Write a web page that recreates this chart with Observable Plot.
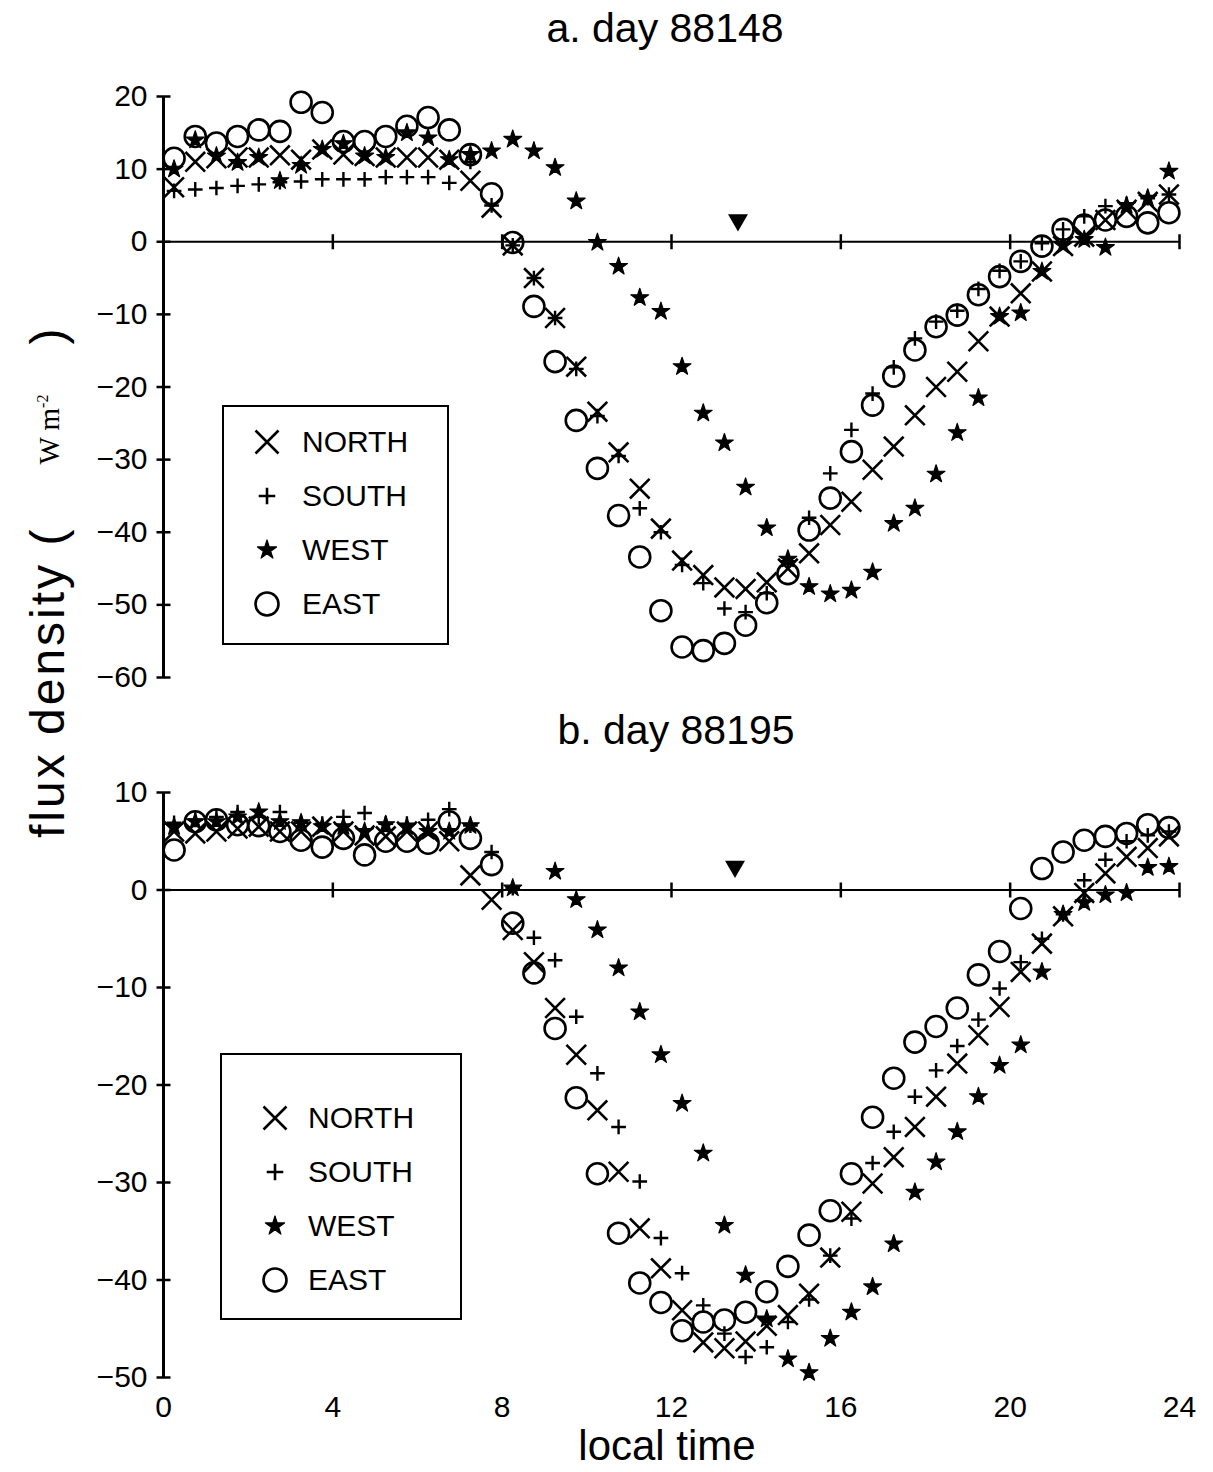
<!DOCTYPE html>
<html>
<head>
<meta charset="utf-8">
<script src="https://cdn.jsdelivr.net/npm/d3@7"></script>
<script src="https://cdn.jsdelivr.net/npm/@observablehq/plot@0.6"></script>
<style>
  body { margin: 0; background: #fff; }
  #root { position: relative; width: 1213px; height: 1472px; background: #fff; font-family: "Liberation Sans", Arial, sans-serif; color: #000; overflow: hidden; }
  .abs { position: absolute; }
  .title { font-size: 41px; white-space: nowrap; transform: translate(-50%, -50%); }
  .legend { border: 2px solid #000; box-sizing: border-box; background: #fff; }
  .legend .row { position: absolute; font-size: 30px; white-space: nowrap; line-height: 30px; }
  .legend svg { position: absolute; overflow: visible; }
</style>
</head>
<body>
<div id="root"></div>
<script>
// ---------- data ----------
const hours = [0.25,0.75,1.25,1.75,2.25,2.75,3.25,3.75,4.25,4.75,5.25,5.75,6.25,6.75,7.25,7.75,
  8.25,8.75,9.25,9.75,10.25,10.75,11.25,11.75,12.25,12.75,13.25,13.75,14.25,14.75,15.25,15.75,
  16.25,16.75,17.25,17.75,18.25,18.75,19.25,19.75,20.25,20.75,21.25,21.75,22.25,22.75,23.25,23.75];

const series = ["NORTH", "SOUTH", "WEST", "EAST"];

// panel a: day 88148
const northA = [7.5,11,11.5,11.6,11.6,11.9,11.3,12.7,12,11.8,11.6,11.6,11.6,11.3,8.4,4.7,
  -0.5,-5,-10.5,-17.2,-23.4,-29,-34,-39.5,-43.9,-45.9,-47.6,-47.8,-46.9,-45,-42.9,-39,
  -35.8,-31.4,-28.2,-23.9,-20,-17.9,-13.7,-10.3,-7.1,-4.1,-0.6,0.7,3,4.4,5.5,6.5];
const southA = [7,7.2,7.4,7.7,7.9,8.2,8.3,8.6,8.6,8.6,8.9,8.9,8.9,8.1,11,5,
  -0.5,-5,-10.5,-17.5,-24,-29.5,-36.7,-40,-44.5,-47,-50.5,-51,-48.4,-44,-38,-31.9,
  -25.9,-20.9,-17.3,-13.3,-11,-9.5,-6.5,-4,-2.7,-0.2,1.7,3.5,4.9,5.2,6,6.5];
const westA = [10,14,11.8,10.9,11.6,8.4,10.5,12.7,13.5,11.8,11.6,15,14.3,11.3,12,12.5,
  14.1,12.5,10.2,5.6,-0.1,-3.4,-7.7,-9.6,-17.2,-23.6,-27.7,-33.8,-39.4,-43.7,-47.5,-48.5,
  -48,-45.5,-38.8,-36.7,-32,-26.3,-21.5,-10.3,-9.8,-4.1,-0.5,0.3,-0.8,5,6,9.7];
const eastA = [11.5,14.5,13.6,14.5,15.4,15.2,19.2,17.8,13.8,13.8,14.5,15.9,17.1,15.4,12,6.6,
  -0.1,-8.9,-16.5,-24.6,-31.2,-37.7,-43.4,-50.8,-55.8,-56.3,-55.3,-52.8,-49.7,-45.7,-39.7,-35.3,
  -28.9,-22.5,-18.5,-14.9,-11.7,-10.1,-7.3,-4.8,-2.7,-0.6,1.7,2.3,3,3.5,2.6,4];

// panel b: day 88195
const northB = [6,5.8,6,6.3,6.5,6,6,6.5,6,5.6,5.5,6,6,5,1.5,-1,
  -4.1,-7.4,-12.1,-16.9,-22.6,-28.9,-34.7,-38.8,-43.1,-46.4,-47,-46.3,-44.7,-43.6,-41.4,-37.7,
  -33,-30.1,-27.4,-24.3,-21.2,-17.8,-14.9,-12,-8.4,-5.5,-2.7,-0.3,1.7,3.4,4.3,5.5];
const southB = [6.9,7.2,7.5,8,7.5,8,6.9,6.8,7.5,7.9,6.8,6.8,7.2,8.3,6.6,3.9,
  0.2,-4.9,-7.2,-13,-18.8,-24.3,-29.9,-35.7,-39.3,-42.6,-45.5,-47.9,-46.9,-44.3,-42,-37.5,
  -33.7,-28,-24.8,-21.2,-18.5,-16,-13.3,-10.1,-7.4,-5,-2.5,1,3.1,5,5.6,6];
const westB = [6.5,7,7,7.5,8,7,6.9,6.5,6.5,6,6.7,6.5,6,6,6.6,null,
  0.2,null,1.9,-1,-4.1,-8,-12.5,-16.9,-21.9,-27,-34.4,-39.5,-44,-48.1,-49.5,-46,
  -43.3,-40.7,-36.3,-31,-27.9,-24.8,-21.2,-18,-15.9,-8.4,-2.5,-1.3,-0.5,-0.3,2.3,2.4];
const eastB = [4.1,7,7.2,6.7,6.6,6,5.1,4.4,5.3,3.6,5,5,4.8,7,5.3,2.6,
  -3.4,-8.5,-14.2,-21.3,-29.1,-35.2,-40.3,-42.3,-45.2,-44.3,-44.1,-43.3,-41.2,-38.6,-35.4,-32.9,
  -29.1,-23.3,-19.3,-15.6,-14,-12.1,-8.7,-6.3,-1.9,2.2,3.9,5.1,5.5,5.8,6.7,6.4];

// solar-noon markers (hour, flux)
const noonA = {t: 13.57, v: 3.0};
const noonB = {t: 13.5, v: 2.4};

const xTicks = [0, 4, 8, 12, 16, 20, 24];
const yTicksA = [-60, -50, -40, -30, -20, -10, 0, 10, 20];
const yTicksB = [-50, -40, -30, -20, -10, 0, 10];

const titleA = "a. day 88148";
const titleB = "b. day 88195";
const xTitle = "local time";

// ---------- helpers ----------
const hTick = {draw(ctx, size) { const r = Math.sqrt(size / Math.PI); ctx.moveTo(-r, 0); ctx.lineTo(r, 0); }};
const vTick = {draw(ctx, size) { const r = Math.sqrt(size / Math.PI); ctx.moveTo(0, -r); ctx.lineTo(0, r); }};

const root = document.getElementById("root");

function makePanel({north, south, west, east, yDomain, yTicks, height, mt, mb, noon, xLabels}) {
  const marks = [
    Plot.ruleY([0], {stroke: "#000", strokeWidth: 2}),
    Plot.ruleX([0], {stroke: "#000", strokeWidth: 3}),
    Plot.dot(yTicks, {x: () => 0, y: d => d, symbol: hTick, r: 7, fill: "none", stroke: "#000", strokeWidth: 2.5}),
    Plot.dot(xTicks, {x: d => d, y: () => 0, symbol: vTick, r: 7.5, fill: "none", stroke: "#000", strokeWidth: 2.5}),
    Plot.axisY({ticks: yTicks, tickSize: 0, tickPadding: 16, label: null}),
    Plot.dot(hours, {x: hours, y: east, r: 10.5, fill: "none", stroke: "#000", strokeWidth: 2.6}),
    Plot.dot(hours, {x: hours, y: north, symbol: "times", r: 9, fill: "none", stroke: "#000", strokeWidth: 2.6}),
    Plot.dot(hours, {x: hours, y: south, symbol: "plus", r: 4.8, fill: "none", stroke: "#000", strokeWidth: 2.4}),
    Plot.dot(hours, {x: hours, y: west, symbol: "star", r: 5.6, fill: "#000", stroke: "#000", strokeWidth: 1.2, strokeLinejoin: "round"}),
    Plot.dot([noon], {x: "t", y: "v", symbol: "triangle", rotate: 180, r: 7.4, fill: "#000", stroke: "none"})
  ];
  if (xLabels) marks.push(Plot.axisX({ticks: xTicks, tickSize: 0, tickPadding: 18, label: null}));
  return Plot.plot({
    width: 1213, height,
    marginLeft: 163, marginRight: 34, marginTop: mt, marginBottom: mb,
    x: xLabels ? {domain: [0, 24]} : {domain: [0, 24], axis: null},
    y: {domain: yDomain},
    style: {fontFamily: '"Liberation Sans", Arial, sans-serif', fontSize: "30px", background: "transparent", color: "#000", overflow: "visible"},
    marks
  });
}

const svgA = makePanel({north: northA, south: southA, west: westA, east: eastA,
  yDomain: [-60, 20], yTicks: yTicksA, height: 700, mt: 96, mb: 23, noon: noonA, xLabels: false});
svgA.classList.add("abs"); svgA.style.left = "0px"; svgA.style.top = "0px";
root.appendChild(svgA);

const svgB = makePanel({north: northB, south: southB, west: westB, east: eastB,
  yDomain: [-50, 10], yTicks: yTicksB, height: 772, mt: 92, mb: 95, noon: noonB, xLabels: true});
svgB.classList.add("abs"); svgB.style.left = "0px"; svgB.style.top = "700px";
root.appendChild(svgB);

// titles
function addText(txt, x, y, cls) {
  const d = document.createElement("div");
  d.className = "abs " + cls; d.textContent = txt;
  d.style.left = x + "px"; d.style.top = y + "px";
  root.appendChild(d);
  return d;
}
addText(titleA, 665, 28, "title");
addText(titleB, 676, 730, "title");
const xt = addText(xTitle, 667, 1446, "title"); xt.style.fontSize = "42px";

// y-axis title (rotated)
const yl = document.createElement("div");
yl.className = "abs";
yl.style.cssText = "left:24px;top:838px;transform-origin:0 0;transform:rotate(-90deg);white-space:nowrap;line-height:48px;height:48px;";
yl.innerHTML = '<span style="font-size:48px;letter-spacing:3px">flux density (</span>' +
  '<span style="font-family:\'Liberation Serif\',\'Times New Roman\',serif;font-size:29px;margin-left:62px;position:relative;top:-5px">W m<sup style="font-size:16px">-2</sup></span>' +
  '<span style="font-size:48px;margin-left:50px">)</span>';
root.appendChild(yl);

// legends
const symbolTypes = {NORTH: d3.symbolTimes, SOUTH: d3.symbolPlus, WEST: d3.symbolStar, EAST: d3.symbolCircle};
const symbolSizes = {NORTH: Math.PI * 10.5 * 10.5, SOUTH: Math.PI * 5.4 * 5.4, WEST: Math.PI * 6 * 6, EAST: Math.PI * 11.5 * 11.5};
function addLegend(left, top, w, h, symX, textX, rowsY) {
  const box = document.createElement("div");
  box.className = "abs legend";
  box.style.left = left + "px"; box.style.top = top + "px";
  box.style.width = w + "px"; box.style.height = h + "px";
  series.forEach((name, i) => {
    const cy = rowsY[i] - top - 2;
    const svg = d3.create("svg").attr("width", 1).attr("height", 1)
      .style("left", (symX - left - 2) + "px").style("top", cy + "px");
    const p = svg.append("path").attr("d", d3.symbol(symbolTypes[name], symbolSizes[name])());
    if (name === "WEST") p.attr("fill", "#000").attr("stroke", "#000").attr("stroke-width", 1.2).attr("stroke-linejoin", "round");
    else p.attr("fill", "none").attr("stroke", "#000").attr("stroke-width", 2.6);
    box.appendChild(svg.node());
    const t = document.createElement("div");
    t.className = "row"; t.textContent = name;
    t.style.left = (textX - left - 2) + "px"; t.style.top = (cy - 15) + "px";
    box.appendChild(t);
  });
  root.appendChild(box);
}
addLegend(222, 405, 227, 240, 267, 302, [442, 496, 550, 604]);
addLegend(220, 1053, 242, 267, 275, 308, [1118, 1172, 1226, 1280]);
</script>
</body>
</html>
